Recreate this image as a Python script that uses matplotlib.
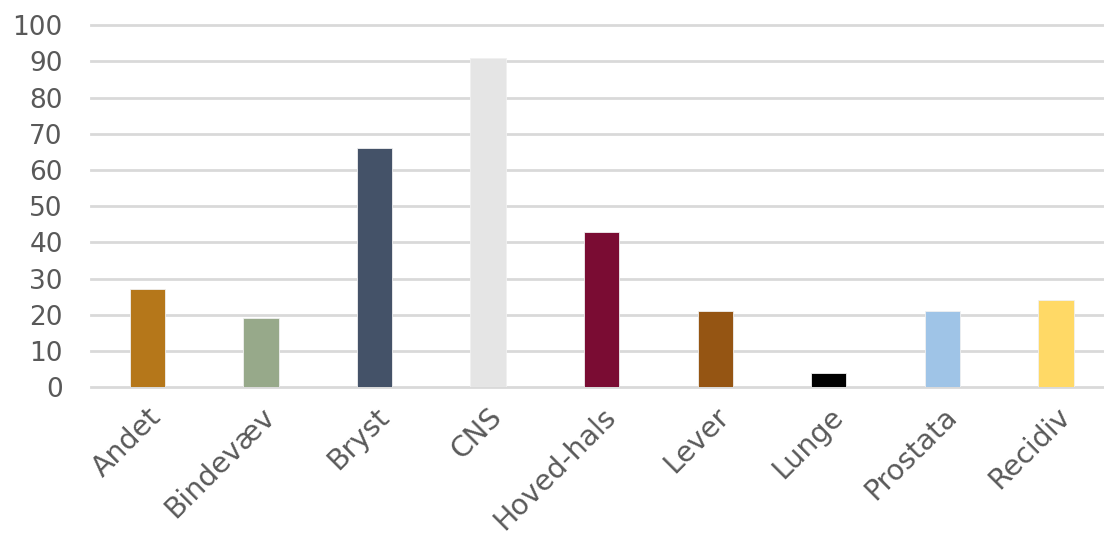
import matplotlib.pyplot as plt

# Kræfttyper og antal
categories = ["Andet", "Bindevæv", "Bryst", "CNS", "Hoved-hals", "Lever", "Lunge", "Prostata", "Recidiv"]
values = [27, 19, 66, 91, 43, 21, 4, 21, 24]
colors = ["#B5771A", "#97A98A", "#445268", "#E5E5E5", "#7A0C33", "#955513", "#000000", "#9FC4E7", "#FFD966"]
yticks = list(range(0, 101, 10))

plt.rcParams['font.family'] = ['DejaVu Sans']

fig = plt.figure(figsize=(11.04, 5.37), dpi=100)
ax = fig.add_axes([0.082, 0.279, 0.926, 0.674])

x = range(len(categories))
ax.bar(x, values, width=0.31, color=colors, edgecolor="#f0f0f0", linewidth=0.6, zorder=3)

ax.set_ylim(0, 100)
ax.set_xlim(-0.5, len(categories) - 0.5)
ax.set_yticks(yticks)
ax.set_xticks(list(x))
ax.set_xticklabels(categories, rotation=45, ha="right", rotation_mode="anchor")

ax.grid(axis="y", color="#d9d9d9", linewidth=2, zorder=0)
ax.set_axisbelow(True)
for line in ax.get_ygridlines():
    line.set_clip_on(False)
for s in ax.spines.values():
    s.set_visible(False)
ax.tick_params(axis="both", length=0, labelsize=19, labelcolor="#595959")
ax.tick_params(axis="y", pad=20)
ax.tick_params(axis="x", pad=11, labelsize=20.5)

fig.savefig("out.png", dpi=100)
